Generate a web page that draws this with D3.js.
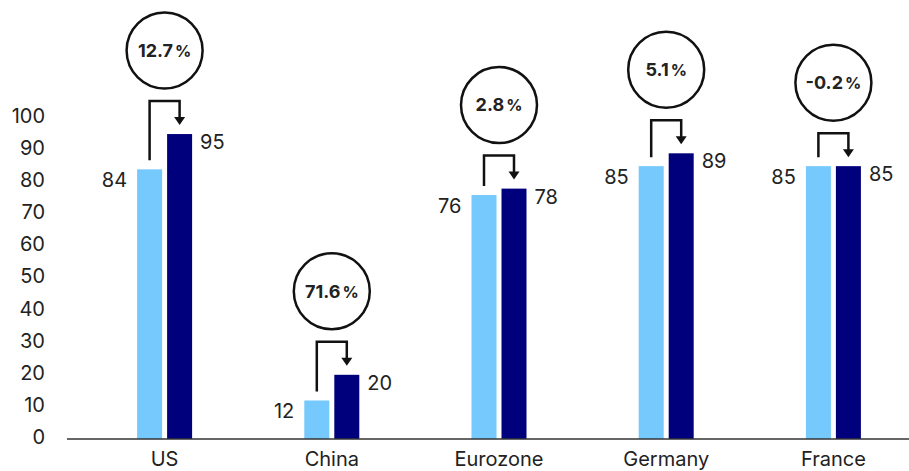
<!DOCTYPE html>
<html>
<head>
<meta charset="utf-8">
<script src="https://cdn.jsdelivr.net/npm/d3@7"></script>
<style>
  body { margin: 0; background: #fff; }
  text { font-family: Inter, "Noto Sans", sans-serif; fill: #222; }
</style>
</head>
<body>
<div id="chart-area"></div>
<script>
// values
const categories = ["US", "China", "Eurozone", "Germany", "France"];
const before = [84, 12, 76, 85, 85];
const after = [95, 20, 78, 89, 85];
const changeLabels = ["12.7", "71.6", "2.8", "5.1", "-0.2"];
const yTicks = [0, 10, 20, 30, 40, 50, 60, 70, 80, 90, 100];

const lightBlue = "#76c9fd";
const navy = "#00007d";

const width = 909, height = 471;

const svg = d3.select("#chart-area").append("svg")
  .attr("width", width)
  .attr("height", height);

const x = d3.scaleBand().domain(categories).range([81, 917]);
const inner = d3.scaleBand().domain(["before", "after"]).range([0, 55]).paddingInner(1 / 6);
const y = d3.scaleLinear().domain([0, 100]).range([439, 118]);

const data = categories.map((c, i) => ({cat: c, before: before[i], after: after[i], change: changeLabels[i]}));
const left = d => x(d.cat) + x.bandwidth() / 2 - 27.5;

// y axis labels only
const yAxis = svg.append("g")
  .attr("transform", "translate(45,-2)")
  .call(d3.axisLeft(y).tickValues(yTicks).tickSize(0).tickPadding(0));
yAxis.select(".domain").remove();
yAxis.selectAll("text").style("font-size", "20px").style("font-family", "Inter, sans-serif").attr("fill", "#222");

// x axis
const xAxis = svg.append("g")
  .attr("transform", "translate(0,439)")
  .call(d3.axisBottom(x).tickSize(0).tickPadding(13));
xAxis.select(".domain").remove();
xAxis.selectAll("text").style("font-size", "20px").style("font-family", "Inter, sans-serif").attr("fill", "#222");

// bars
const groups = svg.append("g").selectAll("g")
  .data(data).enter().append("g")
  .attr("transform", d => "translate(" + left(d) + ",0)");

groups.append("rect")
  .attr("x", inner("before"))
  .attr("y", d => y(d.before))
  .attr("width", inner.bandwidth())
  .attr("height", d => y(0) - y(d.before))
  .attr("fill", lightBlue);

groups.append("rect")
  .attr("x", inner("after"))
  .attr("y", d => y(d.after))
  .attr("width", inner.bandwidth())
  .attr("height", d => y(0) - y(d.after))
  .attr("fill", navy);

svg.append("line")
  .attr("x1", 67).attr("x2", 909)
  .attr("y1", 439).attr("y2", 439)
  .attr("stroke", "#333").attr("stroke-width", 1.5);

// value labels
groups.append("text")
  .attr("x", inner("before") - 10)
  .attr("y", d => y(d.before) + 11)
  .attr("dy", "0.35em")
  .attr("text-anchor", "end")
  .style("font-size", "20px")
  .text(d => d.before);

groups.append("text")
  .attr("x", inner("after") + inner.bandwidth() + 8)
  .attr("y", d => y(d.after) + 8)
  .attr("dy", "0.35em")
  .style("font-size", "20px")
  .text(d => d.after);

// bracket arrows
const lc = inner("before") + inner.bandwidth() / 2;
const dc = inner("after") + inner.bandwidth() / 2;
const bracketY = d => Math.min(y(d.before), y(d.after)) - 33;

groups.append("path")
  .attr("d", d => "M" + lc + "," + (y(d.before) - 9) + " V" + bracketY(d) + " H" + dc + " V" + (y(d.after) - 16))
  .attr("fill", "none")
  .attr("stroke", "#111")
  .attr("stroke-width", 2.5);

groups.append("path")
  .attr("d", d => {
    const tip = y(d.after) - 9;
    return "M" + (dc - 5.5) + "," + (tip - 8) + " L" + (dc + 5.5) + "," + (tip - 8) + " L" + dc + "," + tip + " Z";
  })
  .attr("fill", "#111");

// change circles
const cy = d => bracketY(d) - 12 - 38.5;

groups.append("circle")
  .attr("cx", 27.5)
  .attr("cy", cy)
  .attr("r", 38)
  .attr("fill", "#fff")
  .attr("stroke", "#111")
  .attr("stroke-width", 2.5);

const pct = groups.append("text")
  .attr("x", 27.5)
  .attr("y", cy)
  .attr("dy", "0.35em")
  .attr("text-anchor", "middle")
  .style("font-weight", "700")
  .style("font-size", "18px")
  .attr("fill", "#111");
pct.append("tspan").text(d => d.change);
pct.append("tspan").attr("dx", 2).style("font-size", "16px").text("%");
</script>
</body>
</html>
